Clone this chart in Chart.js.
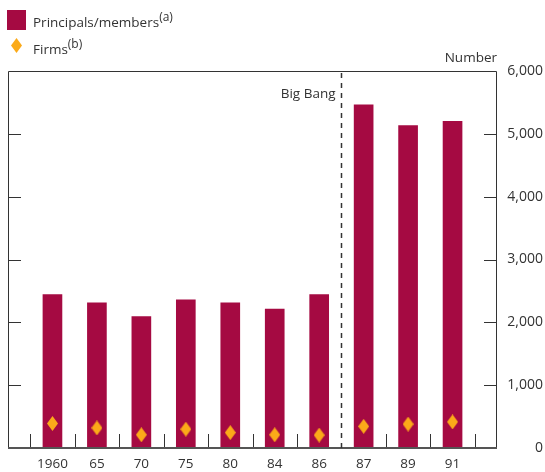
<!DOCTYPE html>
<html>
<head>
<meta charset="utf-8">
<script src="https://cdn.jsdelivr.net/npm/chart.js@4.4.1/dist/chart.umd.min.js"></script>
<style>
  body { margin: 0; background: #fff; }
  #wrap { position: relative; width: 545px; height: 472px; font-family: "Open Sans", sans-serif; color: #333; }
  #chartCanvas { position: absolute; left: 0; top: 0; }
  .legend-row { position: absolute; left: 7px; font-size: 13.5px; line-height: 20px; }
  .legend-row sup { font-size: 12px; vertical-align: 0; position: relative; top: -6px; }
  .swatch { position: absolute; left: 0; }
  .legend-row span.lbl { position: absolute; left: 26px; white-space: nowrap; }
</style>
</head>
<body>
<div id="wrap">
  <canvas id="chartCanvas" width="545" height="472"></canvas>
  <div class="legend-row" style="top:9px;">
    <div class="swatch" style="top:1px;width:19px;height:20px;background:#a50a42;"></div>
    <span class="lbl" style="top:3px;">Principals/members<sup>(a)</sup></span>
  </div>
  <div class="legend-row" style="top:35px;">
    <canvas class="swatch" id="legendDiamond" width="19" height="20" style="top:0px;"></canvas>
    <span class="lbl" style="top:4px;">Firms<sup>(b)</sup></span>
  </div>
</div>
<script>
const yearLabels = ['1960', '65', '70', '75', '80', '84', '86', '87', '89', '91'];
const members = [2440, 2310, 2090, 2360, 2310, 2210, 2440, 5460, 5130, 5200];
const firms = [390, 320, 210, 300, 245, 210, 205, 345, 380, 415];
const yTicks = [0, 1000, 2000, 3000, 4000, 5000, 6000];
const bigBangAt = 6.5; // between 86 and 87

const barColor = '#a50a42';
const diamondColor = '#fbaa19';
const inkColor = '#333333';

function makeDiamond(w, h) {
    const c = document.createElement('canvas');
    c.width = w;
    c.height = h;
    const g = c.getContext('2d');
    g.fillStyle = diamondColor;
    g.beginPath();
    g.moveTo(w / 2, 0);
    g.lineTo(w, h / 2);
    g.lineTo(w / 2, h);
    g.lineTo(0, h / 2);
    g.closePath();
    g.fill();
    return c;
}

// legend diamond
(function () {
    const lc = document.getElementById('legendDiamond').getContext('2d');
    lc.drawImage(makeDiamond(11, 15), 4, 3);
})();

const frame = {
    id: 'frame',
    afterDraw(chart) {
        const { ctx, chartArea: a, scales: { x, y } } = chart;
        ctx.save();
        ctx.strokeStyle = inkColor;
        ctx.lineWidth = 1;

        // box
        ctx.beginPath();
        ctx.moveTo(a.left + 0.5, a.bottom);
        ctx.lineTo(a.left + 0.5, a.top + 0.5);
        ctx.lineTo(a.right - 0.5, a.top + 0.5);
        ctx.lineTo(a.right - 0.5, a.bottom);
        ctx.stroke();

        // inner y ticks on both sides
        ctx.beginPath();
        yTicks.slice(1, -1).forEach(v => {
            const py = Math.round(y.getPixelForValue(v)) + 0.5;
            ctx.moveTo(a.left, py);
            ctx.lineTo(a.left + 13, py);
            ctx.moveTo(a.right - 13, py);
            ctx.lineTo(a.right, py);
        });
        // inner x ticks between categories
        for (let i = -0.5; i < yearLabels.length; i++) {
            if (i === bigBangAt) continue;
            const px = Math.round(x.getPixelForValue(i)) + 0.5;
            ctx.moveTo(px, a.bottom);
            ctx.lineTo(px, a.bottom - 14);
        }
        ctx.stroke();

        // base line
        ctx.strokeStyle = '#555';
        ctx.lineWidth = 2;
        ctx.beginPath();
        ctx.moveTo(a.left, a.bottom);
        ctx.lineTo(a.right, a.bottom);
        ctx.stroke();

        // Big Bang marker
        const bx = Math.round(x.getPixelForValue(bigBangAt)) + 0.5;
        ctx.strokeStyle = inkColor;
        ctx.lineWidth = 1.5;
        ctx.setLineDash([5, 5]);
        ctx.beginPath();
        ctx.moveTo(bx, a.top + 2);
        ctx.lineTo(bx, a.bottom);
        ctx.stroke();
        ctx.setLineDash([]);

        ctx.fillStyle = inkColor;
        ctx.font = '13.5px "Open Sans", sans-serif';
        ctx.textAlign = 'right';
        ctx.textBaseline = 'alphabetic';
        ctx.fillText('Big Bang', bx - 6, a.top + 27);
        ctx.fillText('Number', a.right, a.top - 9);
        ctx.restore();
    }
};

const ctx = document.getElementById('chartCanvas').getContext('2d');
new Chart(ctx, {
    data: {
        datasets: [
            {
                type: 'scatter',
                label: 'Firms',
                data: firms.map((v, i) => ({ x: i, y: v })),
                pointStyle: makeDiamond(11, 15),
                pointRadius: 7,
                order: 0
            },
            {
                type: 'bar',
                label: 'Principals/members',
                data: members.map((v, i) => ({ x: i, y: v })),
                backgroundColor: barColor,
                barThickness: 19,
                order: 1
            }
        ]
    },
    options: {
        responsive: false,
        animation: false,
        layout: { padding: { left: 7, top: 71, right: 2, bottom: 0 } },
        plugins: {
            legend: { display: false },
            tooltip: { enabled: false }
        },
        scales: {
            x: {
                type: 'linear',
                min: -1,
                max: 10,
                offset: false,
                grid: { display: false, drawTicks: false },
                border: { display: false },
                afterBuildTicks: scale => {
                    scale.ticks = yearLabels.map((_, i) => ({ value: i }));
                },
                afterFit: scale => { scale.height = 24; },
                ticks: {
                    autoSkip: false,
                    maxRotation: 0,
                    padding: 8,
                    color: inkColor,
                    font: { family: '"Open Sans", sans-serif', size: 13.5 },
                    callback: v => yearLabels[v]
                }
            },
            y: {
                position: 'right',
                min: 0,
                max: 6000,
                grid: { display: false, drawTicks: false },
                border: { display: false },
                afterBuildTicks: scale => {
                    scale.ticks = yTicks.map(v => ({ value: v }));
                },
                afterFit: scale => { scale.width = 46; },
                ticks: {
                    crossAlign: 'far',
                    color: inkColor,
                    font: { family: '"Open Sans", sans-serif', size: 14 },
                    callback: v => v.toLocaleString('en-US')
                }
            }
        }
    },
    plugins: [frame]
});
</script>
</body>
</html>
